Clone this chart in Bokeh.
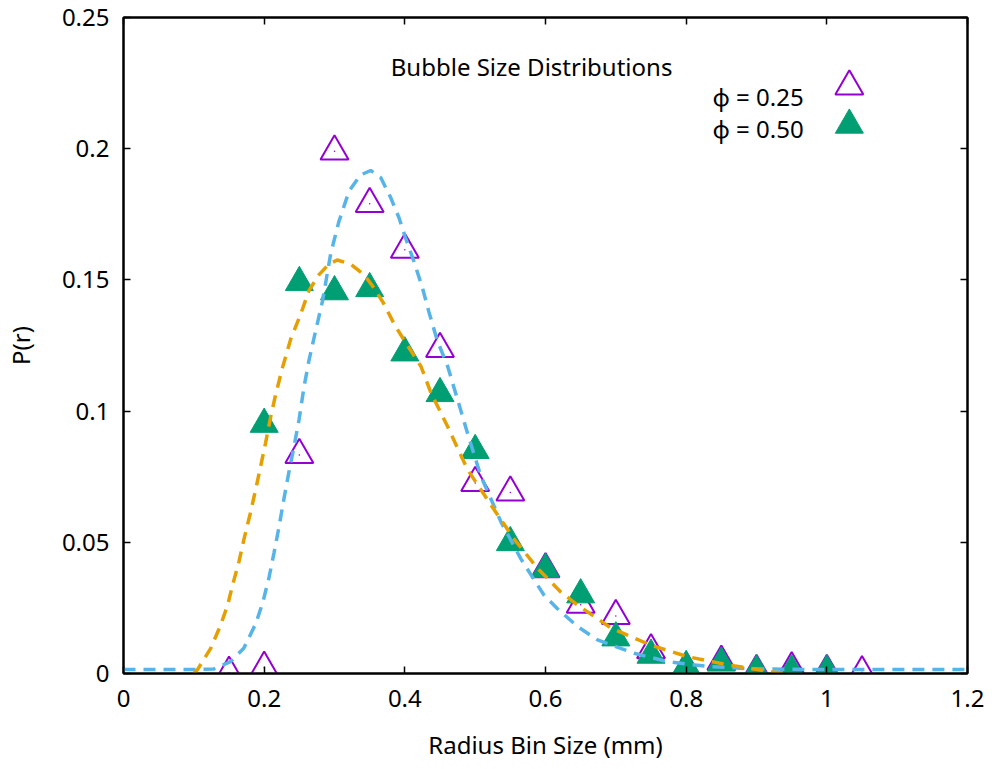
from bokeh.plotting import figure
from bokeh.models import Range1d, FixedTicker, PrintfTickFormatter, LinearAxis, Label
from bokeh.embed import file_html
from bokeh.resources import INLINE

# ---- data ----
bins = [0.15, 0.20, 0.25, 0.30, 0.35, 0.40, 0.45, 0.50, 0.55, 0.60, 0.65, 0.70,
        0.75, 0.80, 0.85, 0.90, 0.95, 1.00, 1.05]
p_025 = [0.0003, 0.0022, 0.0833, 0.199, 0.179, 0.1615, 0.1237, 0.0726, 0.069, 0.0398,
         0.0262, 0.0219, 0.0089, 0.0020, 0.0045, 0.0010, 0.0020, 0.0010, 0.0005]
bins_050 = [0.20, 0.25, 0.30, 0.35, 0.40, 0.45, 0.50, 0.55, 0.60, 0.65, 0.70,
            0.75, 0.80, 0.85, 0.90, 0.95, 1.00]
p_050 = [0.095, 0.149, 0.1455, 0.1467, 0.1222, 0.1067, 0.085, 0.0499, 0.0397, 0.030,
         0.0136, 0.007, 0.0027, 0.004, 0.001, 0.001, 0.001]

fit025_x = [0.0, 0.05, 0.10, 0.128, 0.152, 0.171, 0.188, 0.198, 0.207, 0.214, 0.221,
            0.228, 0.235, 0.2425, 0.2496, 0.2567, 0.2638, 0.271, 0.283, 0.2946, 0.306,
            0.3206, 0.337, 0.3515, 0.3657, 0.380, 0.3917, 0.401, 0.413, 0.425, 0.434,
            0.446, 0.461, 0.489, 0.508, 0.537, 0.565, 0.598, 0.617, 0.645, 0.674, 0.726,
            0.774, 0.830, 0.892, 0.95, 1.0, 1.1, 1.2]
fit025_y = [0.0015, 0.0015, 0.0015, 0.0017, 0.0045, 0.0096, 0.019, 0.027, 0.0367, 0.046,
            0.0557, 0.0664, 0.0765, 0.0866, 0.0967, 0.1093, 0.1194, 0.128, 0.142, 0.160,
            0.172, 0.1838, 0.190, 0.1917, 0.189, 0.1813, 0.1737, 0.166, 0.157, 0.147,
            0.138, 0.127, 0.117, 0.0917, 0.0753, 0.0576, 0.0437, 0.0298, 0.0247, 0.018,
            0.0128, 0.0077, 0.0045, 0.0027, 0.0018, 0.0016, 0.0015, 0.0015, 0.0015]

fit050_x = [0.100, 0.105, 0.124, 0.138, 0.148, 0.155, 0.164, 0.1714, 0.180, 0.188, 0.195,
            0.202, 0.2094, 0.2165, 0.226, 0.2378, 0.252, 0.2638, 0.278, 0.292, 0.304,
            0.323, 0.342, 0.356, 0.370, 0.3846, 0.399, 0.423, 0.437, 0.461, 0.489, 0.523,
            0.556, 0.589, 0.622, 0.646, 0.694, 0.750, 0.802, 0.859, 0.925, 0.944]
fit050_y = [0.0, 0.0014, 0.0096, 0.0184, 0.026, 0.0336, 0.0424, 0.0513, 0.0607, 0.0702,
            0.079, 0.0879, 0.098, 0.1065, 0.1165, 0.1275, 0.137, 0.146, 0.152, 0.156, 0.1576,
            0.156, 0.152, 0.147, 0.141, 0.1333, 0.127, 0.117, 0.107, 0.094, 0.0778, 0.064,
            0.051, 0.040, 0.031, 0.026, 0.0172, 0.0108, 0.0064, 0.0033, 0.0005, 0.0]

x_ticks = [0, 0.2, 0.4, 0.6, 0.8, 1.0, 1.2]
y_ticks = [0, 0.05, 0.1, 0.15, 0.2, 0.25]

title_text = "Bubble Size Distributions"
label_025 = "\u03c6 = 0.25"
label_050 = "\u03c6 = 0.50"

# ---- styles / layout ----
PURPLE = "#9400D3"
GREEN = "#009E73"
BLUE = "#56B4E9"
ORANGE = "#E69F00"
FONT = "Noto Sans"
FS = "24px"

TITLE_POS = (0.380, 0.2312)
LEG_TEXT_X = 0.967
LEG_ROW_Y = [0.2198, 0.2078]
LEG_MARK_X = 1.032
LEG_MARK_Y = [0.2237, 0.2090]

p = figure(width=995, height=769, output_backend="svg", toolbar_location=None,
           x_range=Range1d(0, 1.2), y_range=Range1d(0, 0.25),
           min_border_left=123, min_border_right=28, min_border_top=17, min_border_bottom=96,
           background_fill_color="white", border_fill_color="white")
p.grid.visible = False
p.outline_line_color = "black"
p.outline_line_width = 2

for ax in (p.xaxis[0], p.yaxis[0]):
    ax.axis_line_width = 2
    ax.major_tick_in = 7
    ax.major_tick_out = 0
    ax.major_tick_line_width = 1.5
    ax.minor_tick_line_color = None
    ax.major_label_text_font = FONT
    ax.major_label_text_font_size = FS
    ax.major_label_text_color = "black"
    ax.axis_label_text_font = FONT
    ax.axis_label_text_font_size = FS
    ax.axis_label_text_font_style = "normal"
    ax.axis_label_text_color = "black"
    ax.formatter = PrintfTickFormatter(format="%g")

p.xaxis[0].ticker = FixedTicker(ticks=x_ticks)
p.yaxis[0].ticker = FixedTicker(ticks=y_ticks)
p.xaxis[0].axis_label = "Radius Bin Size (mm)"
p.yaxis[0].axis_label = "P(r)"
p.xaxis[0].major_label_standoff = 16
p.xaxis[0].axis_label_standoff = 18
p.yaxis[0].major_label_standoff = 14
p.yaxis[0].axis_label_standoff = 22

# mirrored ticks (no labels)
top = LinearAxis(ticker=FixedTicker(ticks=x_ticks), major_tick_in=7, major_tick_out=0,
                 major_tick_line_width=1.5, minor_tick_line_color=None,
                 major_label_overrides={t: "" for t in x_ticks},
                 axis_line_width=2, major_label_standoff=0)
right = LinearAxis(ticker=FixedTicker(ticks=y_ticks), major_tick_in=7, major_tick_out=0,
                   major_tick_line_width=1.5, minor_tick_line_color=None,
                   major_label_overrides={t: "" for t in y_ticks},
                   axis_line_width=2, major_label_standoff=0)
p.add_layout(top, "above")
p.add_layout(right, "right")

MS = 28
# data points
p.scatter(bins, p_025, marker="triangle", size=MS, fill_color=None,
          line_color=PURPLE, line_width=2)
p.scatter(bins, p_025, marker="circle", size=1.5, fill_color=PURPLE, line_color=None)
p.scatter(bins_050, p_050, marker="triangle", size=MS, fill_color=GREEN,
          line_color=GREEN, line_width=1)

# fits
p.line(fit025_x, fit025_y, line_color=BLUE, line_width=3.5, line_dash="12 8")
p.line(fit050_x, fit050_y, line_color=ORANGE, line_width=3.5, line_dash="12 8")

# key
p.add_layout(Label(x=TITLE_POS[0], y=TITLE_POS[1], text=title_text, text_font=FONT,
                   text_font_size=FS, text_align="left", text_baseline="alphabetic",
                   text_color="black"))
for txt, yy in zip([label_025, label_050], LEG_ROW_Y):
    p.add_layout(Label(x=LEG_TEXT_X, y=yy, text=txt, text_font=FONT, text_font_size=FS,
                       text_align="right", text_baseline="alphabetic", text_color="black"))
p.scatter([LEG_MARK_X], [LEG_MARK_Y[0]], marker="triangle", size=MS, fill_color=None,
          line_color=PURPLE, line_width=2)
p.scatter([LEG_MARK_X], [LEG_MARK_Y[1]], marker="triangle", size=MS, fill_color=GREEN,
          line_color=GREEN, line_width=1)

open("out.html", "w").write(file_html(p, INLINE))
